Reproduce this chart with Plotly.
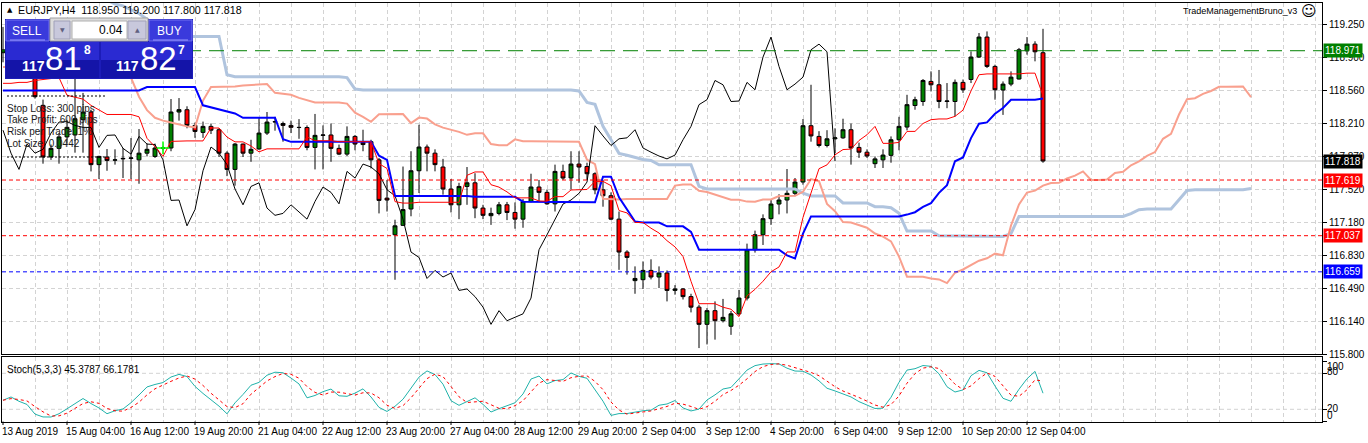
import numpy as np
import pandas as pd
import plotly.graph_objects as go

# EURJPY H4 candles, bar 0 = 13 Aug 2019 20:00, last bar = 12 Sep 12:00
opens = [118.95, 118.98, 119.02, 118.92, 118.85, 118.40, 117.86, 117.95, 118.07, 118.09,
         118.25, 118.33, 117.78, 117.86, 117.826, 117.84, 117.845, 117.83, 117.90, 117.866,
         117.95, 117.954, 118.33, 118.354, 118.19, 118.117, 118.18, 118.145, 117.90, 117.73,
         117.995, 117.90, 117.944, 118.11, 118.225, 118.21, 118.19, 118.17, 118.168, 117.96,
         118.086, 118.09, 117.95, 117.89, 118.075, 118.01, 118.02, 117.83, 117.43, 117.047,
         117.145, 117.316, 117.716, 117.964, 117.90, 117.755, 117.525, 117.36, 117.552, 117.59,
         117.326, 117.246, 117.27, 117.36, 117.28, 117.21, 117.395, 117.546, 117.49, 117.37,
         117.709, 117.64, 117.786, 117.76, 117.685, 117.517, 117.455, 117.21, 116.866, 116.567,
         116.577, 116.674, 116.605, 116.647, 116.465, 116.48, 116.40, 116.29, 116.11, 116.253,
         116.148, 116.09, 116.22, 116.385, 116.89, 117.047, 117.215, 117.368, 117.41, 117.48,
         117.598, 118.187, 118.075, 117.98, 118.05, 118.06, 118.145, 117.96, 117.91, 117.79,
         117.83, 117.877, 118.04, 118.173, 118.398, 118.44, 118.65, 118.615, 118.44, 118.44,
         118.64, 118.67, 118.905, 119.114, 118.807, 118.56, 118.622, 118.675, 118.97, 119.04,
         118.95]
highs = [119.22, 119.18, 119.14, 119.09, 119.07, 118.46, 117.99, 118.11, 118.25, 118.98,
         118.53, 118.354, 117.873, 117.943, 117.94, 117.954, 118.058, 118.152, 118.00, 118.00,
         117.97, 118.466, 118.476, 118.39, 118.22, 118.23, 118.21, 118.16, 117.92, 118.006,
         118.00, 118.04, 118.267, 118.33, 118.28, 118.23, 118.24, 118.256, 118.19, 118.31,
         118.19, 118.21, 117.99, 118.18, 118.09, 118.145, 118.04, 117.85, 117.62, 117.204,
         117.76, 117.92, 118.197, 117.99, 117.94, 117.84, 117.63, 117.59, 117.755, 117.69,
         117.36, 117.33, 117.39, 117.39, 117.385, 117.42, 117.685, 117.62, 117.52, 117.78,
         117.78, 117.92, 117.92, 117.80, 117.70, 117.62, 117.49, 117.29, 116.885, 116.716,
         116.768, 116.79, 116.716, 116.674, 116.52, 116.49, 116.43, 116.315, 116.28, 116.35,
         116.376, 116.25, 116.47, 116.954, 117.09, 117.26, 117.42, 117.47, 117.734, 117.64,
         118.257, 118.615, 118.13, 118.14, 118.16, 118.26, 118.21, 118.01, 117.94, 117.866,
         117.94, 118.075, 118.28, 118.51, 118.49, 118.675, 118.755, 118.77, 118.633, 118.67,
         118.67, 118.964, 119.156, 119.173, 118.825, 118.65, 118.755, 119.00, 119.114, 119.07,
         119.20]
lows = [118.85, 118.90, 118.88, 118.75, 118.47, 117.79, 117.83, 117.79, 118.00, 117.905,
        117.905, 117.709, 117.629, 117.716, 117.78, 117.64, 117.63, 117.58, 117.866, 117.85,
        117.93, 117.92, 118.24, 118.16, 118.06, 118.06, 118.10, 117.86, 117.66, 117.56,
        117.86, 117.81, 117.935, 118.09, 118.135, 118.02, 118.11, 118.05, 117.93, 117.73,
        117.73, 117.81, 117.88, 117.87, 117.93, 117.92, 117.74, 117.27, 117.29, 116.576,
        117.14, 117.24, 117.483, 117.71, 117.71, 117.466, 117.28, 117.21, 117.36, 117.22,
        117.21, 117.15, 117.25, 117.20, 117.11, 117.12, 117.385, 117.40, 117.36, 117.29,
        117.62, 117.52, 117.59, 117.62, 117.47, 117.34, 117.20, 116.68, 116.63, 116.43,
        116.48, 116.58, 116.49, 116.35, 116.42, 116.37, 116.235, 115.862, 115.90, 115.95,
        116.13, 116.00, 116.20, 116.36, 116.86, 116.94, 117.15, 117.26, 117.27, 117.45,
        117.57, 118.02, 117.96, 117.96, 117.90, 118.05, 117.78, 117.85, 117.85, 117.745,
        117.745, 117.80, 117.93, 118.138, 118.354, 118.395, 118.545, 118.37, 118.37, 118.284,
        118.53, 118.633, 118.895, 118.79, 118.459, 118.30, 118.60, 118.67, 118.93, 118.86,
        117.80]
closes = [118.98, 119.02, 118.92, 118.85, 118.49, 117.86, 117.95, 118.07, 118.17, 118.26,
          118.33, 117.78, 117.866, 117.824, 117.83, 117.845, 117.85, 117.90, 117.94, 117.954,
          117.955, 118.33, 118.355, 118.19, 118.127, 118.18, 118.14, 117.90, 117.73, 117.995,
          117.90, 117.94, 118.11, 118.225, 118.23, 118.19, 118.17, 118.168, 117.96, 118.086,
          118.09, 117.95, 117.89, 118.075, 117.995, 117.99, 117.83, 117.406, 117.41, 117.14,
          117.31, 117.716, 117.964, 117.90, 117.78, 117.525, 117.36, 117.552, 117.59, 117.326,
          117.25, 117.27, 117.36, 117.28, 117.21, 117.395, 117.546, 117.49, 117.37, 117.709,
          117.64, 117.786, 117.755, 117.685, 117.517, 117.455, 117.21, 116.866, 116.81, 116.59,
          116.674, 116.605, 116.647, 116.465, 116.48, 116.40, 116.29, 116.11, 116.253, 116.148,
          116.183, 116.22, 116.385, 116.89, 117.047, 117.215, 117.368, 117.41, 117.48, 117.598,
          118.187, 118.08, 117.98, 118.05, 118.06, 118.145, 117.954, 117.91, 117.87, 117.84,
          117.88, 118.04, 118.18, 118.407, 118.459, 118.66, 118.615, 118.44, 118.445, 118.64,
          118.563, 118.905, 119.114, 118.807, 118.563, 118.622, 118.695, 118.981, 119.04, 118.96,
          117.818]

# ichimoku values whose look-back reaches before the first visible bar
tenkan_head = [118.63, 118.63, 118.64, 118.64, 118.66, 118.67, 118.68, 118.69]
kijun_head = [118.556, 118.556, 118.556, 118.556, 118.556, 118.556, 118.556, 118.556, 118.556, 118.556,
              118.556, 118.556, 118.556, 118.556, 118.556, 118.556, 118.556, 118.556, 118.591, 118.591,
              118.591, 118.591, 118.591, 118.591, 118.591]
senkou_a_head = [118.80, 118.80, 118.80, 118.80, 118.80, 118.80, 118.80, 118.80, 118.80, 118.80,
                 118.80, 118.80, 118.80, 118.80, 118.80, 118.76, 118.69, 118.49, 118.35, 118.27,
                 118.24, 118.22, 118.20, 118.18, 118.17, 118.45]
senkou_b_head = [119.55, 119.55, 119.55, 119.55, 119.55, 119.55, 119.55, 119.55, 119.55, 119.55,
                 119.55, 119.55, 119.55, 119.50, 119.46, 119.44, 119.40, 119.36, 119.30, 119.25,
                 119.20, 119.15, 119.13, 119.12, 119.12, 119.12, 119.12, 119.12, 118.72, 118.70,
                 118.70, 118.70, 118.70, 118.70, 118.70, 118.70, 118.70, 118.70, 118.70, 118.70,
                 118.70, 118.70, 118.70, 118.69, 118.57, 118.56, 118.56, 118.56, 118.56, 118.56,
                 118.56, 118.56, 118.56, 118.56, 118.56, 118.56, 118.56, 118.56, 118.56, 118.56,
                 118.56, 118.56, 118.56, 118.56, 118.56, 118.56, 118.56, 118.56, 118.56, 118.56,
                 118.56, 118.56, 118.55, 118.43, 118.41, 118.18, 118.04]

date_labels = ["13 Aug 2019", "15 Aug 04:00", "16 Aug 12:00", "19 Aug 20:00", "21 Aug 04:00",
               "22 Aug 12:00", "23 Aug 20:00", "27 Aug 04:00", "28 Aug 12:00", "29 Aug 20:00",
               "2 Sep 04:00", "3 Sep 12:00", "4 Sep 20:00", "6 Sep 04:00", "9 Sep 12:00",
               "10 Sep 20:00", "12 Sep 04:00"]
price_ticks = [115.800, 116.140, 116.490, 116.830, 117.180, 117.520, 117.870, 118.210, 118.560, 118.900, 119.250]
stoch_ticks = [0, 20, 80, 100]

# horizontal levels: (price, line colour, dash, label bg)
levels = [(118.971, "#008000", "15px,8px", "#008000"),
          (117.818, "#c0c0c0", "solid", "#000000"),
          (117.619, "#ff0000", "4px,3px", "#ff0000"),
          (117.037, "#ff0000", "4px,3px", "#ff0000"),
          (116.659, "#0000ff", "4px,3px", "#0000ff")]
entry_bar, entry_price = 20, 117.955

info_lines = ["Stop Loss: 300 pips", "Take Profit: 600 pips", "Risk per Trade: 1%", "Lot Size: 0.0442"]

df = pd.DataFrame({"open": opens, "high": highs, "low": lows, "close": closes})
n = len(df)
bars = np.arange(n)
shift = 26

# ichimoku 9/26/52
tenkan = ((df.high.rolling(9).max() + df.low.rolling(9).min()) / 2).to_numpy()
tenkan[:len(tenkan_head)] = tenkan_head
kijun = ((df.high.rolling(26).max() + df.low.rolling(26).min()) / 2).to_numpy()
kijun[:len(kijun_head)] = kijun_head
span_b = ((df.high.rolling(52).max() + df.low.rolling(52).min()) / 2).to_numpy()
senkou_a = np.full(n + shift, np.nan)
senkou_a[shift:] = (tenkan + kijun) / 2
senkou_a[:len(senkou_a_head)] = senkou_a_head
senkou_b = np.full(n + shift, np.nan)
senkou_b[shift:] = span_b
senkou_b[:len(senkou_b_head)] = senkou_b_head
fut = np.arange(n + shift)

# stochastic 5,3,3
ll = df.low.rolling(5, min_periods=1).min()
hh = df.high.rolling(5, min_periods=1).max()
k = 100 * (df.close - ll).rolling(3, min_periods=1).sum() / (hh - ll).rolling(3, min_periods=1).sum()
d = k.rolling(3, min_periods=1).mean()

# pixel helpers (plot area 2..1322 x 3..423)
L, R, T, B = 2, 46, 3, 20
W, H = 1368, 443
pw, ph = W - L - R, H - T - B
def px(x):
    return (x - L) / pw
def py(y):
    return (T + ph - y) / ph

grid = "#d3d3d3"
gdash = "4px,3px"
fig = go.Figure()
fig.add_trace(go.Candlestick(x=bars, open=df.open, high=df.high, low=df.low, close=df.close,
                             increasing=dict(fillcolor="#008000", line=dict(color="black", width=1)),
                             decreasing=dict(fillcolor="#ff0000", line=dict(color="black", width=1)),
                             whiskerwidth=0, hoverinfo="skip"))
fig.add_trace(go.Scatter(x=fut, y=senkou_b, mode="lines", line=dict(color="#b0c4de", width=3)))
fig.add_trace(go.Scatter(x=fut, y=senkou_a, mode="lines", line=dict(color="#f9a08e", width=2)))
fig.add_trace(go.Scatter(x=bars[:-shift], y=df.close.to_numpy()[shift:], mode="lines", line=dict(color="black", width=1)))
fig.add_trace(go.Scatter(x=bars, y=kijun, mode="lines", line=dict(color="#0000ff", width=2)))
fig.add_trace(go.Scatter(x=bars, y=tenkan, mode="lines", line=dict(color="#ff0000", width=1)))
fig.add_trace(go.Scatter(x=[entry_bar], y=[entry_price], mode="markers",
                         marker=dict(symbol="cross-thin", size=9, line=dict(color="#00ff00", width=1.5))))
fig.add_trace(go.Scatter(x=bars, y=k, mode="lines", line=dict(color="#20b2aa", width=1), xaxis="x2", yaxis="y2"))
fig.add_trace(go.Scatter(x=bars, y=d, mode="lines", line=dict(color="#ff0000", width=1, dash="dot"), xaxis="x2", yaxis="y2"))

xr = [-0.125, 164.875]
label_pos = list(range(0, 8 * len(date_labels), 8))
grid_pos = list(range(0, 165, 4))
axis_common = dict(showline=True, linecolor="black", linewidth=1, mirror=True, zeroline=False)
fig.update_layout(
    width=W, height=H, margin=dict(l=L, r=R, t=T, b=B),
    paper_bgcolor="white", plot_bgcolor="white", showlegend=False, hovermode=False,
    font=dict(family="Liberation Sans, Arial, sans-serif", size=10, color="black"),
    xaxis=dict(domain=[0, 1], range=xr, tickvals=grid_pos, showticklabels=False, ticks="",
               showgrid=True, gridcolor=grid, griddash=gdash, rangeslider=dict(visible=False), **axis_common),
    yaxis=dict(domain=[py(354), 1], range=[115.80, 119.47], side="right", tickvals=price_ticks,
               ticktext=["%.3f" % v for v in price_ticks], ticks="outside", ticklen=4, tickcolor="black",
               showgrid=True, gridcolor=grid, griddash=gdash, **axis_common),
    xaxis2=dict(domain=[0, 1], range=xr, anchor="y2", tickvals=grid_pos, showticklabels=False, ticks="",
                showgrid=True, gridcolor=grid, griddash=gdash, **axis_common),
    yaxis2=dict(domain=[py(421.5), py(357)], range=[-0.33, 107.2], anchor="x2", side="right",
                tickvals=stoch_ticks, showticklabels=False, ticks="outside", ticklen=4, tickcolor="black",
                showgrid=False, **axis_common),
)

shapes = []
for lv in (20, 80):
    shapes.append(dict(type="line", xref="paper", x0=0, x1=1, yref="y2", y0=lv, y1=lv,
                       line=dict(color=grid, width=1, dash=gdash), layer="below"))
for price, col, dash, bg in levels:
    shapes.append(dict(type="line", xref="paper", x0=0, x1=1, yref="y", y0=price, y1=price,
                       line=dict(color=col, width=1, dash=dash), layer="below" if col == "#c0c0c0" else "above"))
# date tick marks
for p in label_pos:
    shapes.append(dict(type="line", xref="x2", x0=p, x1=p, yref="paper", y0=py(421.5), y1=py(425),
                       line=dict(color="black", width=1)))
# info block separators
for yy in (96, 157):
    shapes.append(dict(type="line", xref="paper", x0=px(7), x1=px(106), yref="paper", y0=py(yy), y1=py(yy),
                       line=dict(color="black", width=1, dash="2px,2px")))

def rect(x0, y0, x1, y1, fill, line="rgba(0,0,0,0)"):
    shapes.append(dict(type="rect", xref="paper", yref="paper", x0=px(x0), x1=px(x1), y0=py(y1), y1=py(y0),
                       fillcolor=fill, line=dict(color=line, width=1), layer="above"))

# one-click trading panel
rect(5, 19, 193, 79, "#1c1cb8")
rect(6, 20, 49, 41, "#3a3adc", "#7070f0")
rect(149, 20, 192, 41, "#3a3adc", "#7070f0")
rect(50, 18, 148, 41, "#dcdcdc", "#a0a0a0")
rect(72, 21, 127, 39, "white", "#b0b0b0")
rect(54, 21, 70, 39, "#c8c8dc", "#a0a0b8")
rect(128, 21, 146, 39, "#c8c8dc", "#a0a0b8")
rect(6, 42, 99, 60, "#2a2ad2")
rect(6, 60, 99, 78, "#1414a8")
rect(101, 42, 192, 60, "#2a2ad2")
rect(101, 60, 192, 78, "#1414a8")
shapes.append(dict(type="line", xref="paper", yref="paper", x0=px(10), x1=px(45), y0=py(40), y1=py(40),
                   line=dict(color="#9a9aff", width=1), layer="above"))
shapes.append(dict(type="line", xref="paper", yref="paper", x0=px(153), x1=px(188), y0=py(40), y1=py(40),
                   line=dict(color="#9a9aff", width=1), layer="above"))

ann = []
def text(x, y, s, size=10, color="black", anchor="left", family=None, bold=False):
    f = dict(size=size, color=color)
    if family:
        f["family"] = family
    ann.append(dict(xref="paper", yref="paper", x=px(x), y=py(y), text="<b>%s</b>" % s if bold else s,
                    showarrow=False, xanchor=anchor, yanchor="middle", font=f, borderpad=0))

text(6, 10, "▲", size=7, family="DejaVu Sans")
text(17, 10, "EURJPY,H4  118.950 119.200 117.800 117.818", size=10.7)
text(1298, 11, "TradeManagementBruno_v3", size=9, anchor="right")
text(1309, 11, "☺", size=15, anchor="center", family="DejaVu Sans")
text(27, 31, "SELL", size=12, color="white", anchor="center")
text(170, 31, "BUY", size=12, color="white", anchor="center")
text(124, 30, "0.04", size=12, anchor="right")
text(62, 30, "▼", size=6, color="#606080", anchor="center", family="DejaVu Sans")
text(137, 30, "▲", size=6, color="#606080", anchor="center", family="DejaVu Sans")
text(33, 66, "117", size=14, color="white", anchor="center", bold=True)
text(64, 59, "81", size=33, color="white", anchor="center")
text(87, 50, "8", size=12, color="white", anchor="center", bold=True)
text(127, 66, "117", size=14, color="white", anchor="center", bold=True)
text(158, 59, "82", size=33, color="white", anchor="center")
text(181, 50, "7", size=12, color="white", anchor="center", bold=True)
for j, s in enumerate(info_lines):
    text(6, 108 + 11.7 * j, s, color="#202020")
text(6, 369, "Stoch(5,3,3) 45.3787 66.1781")

# stochastic scale labels sit where the terminal draws them
for v, yy in zip(stoch_ticks, (415, 408, 371, 366)):
    text(1326, yy, str(v))

for p, s in zip(label_pos, date_labels):
    ann.append(dict(xref="x2", yref="paper", x=p, y=py(432), text=s, showarrow=False, xanchor="left",
                    yanchor="middle", xshift=-2, borderpad=0))
for price, col, dash, bg in levels:
    ann.append(dict(xref="paper", yref="y", x=px(1323), y=price, text="%.3f" % price, showarrow=False,
                    xanchor="left", yanchor="middle", bgcolor=bg, font=dict(color="white", size=10),
                    borderpad=1))

fig.update_layout(shapes=shapes, annotations=ann)
fig.write_html("out.html", config={"displayModeBar": False},
               post_script="document.body.style.margin='0';")
